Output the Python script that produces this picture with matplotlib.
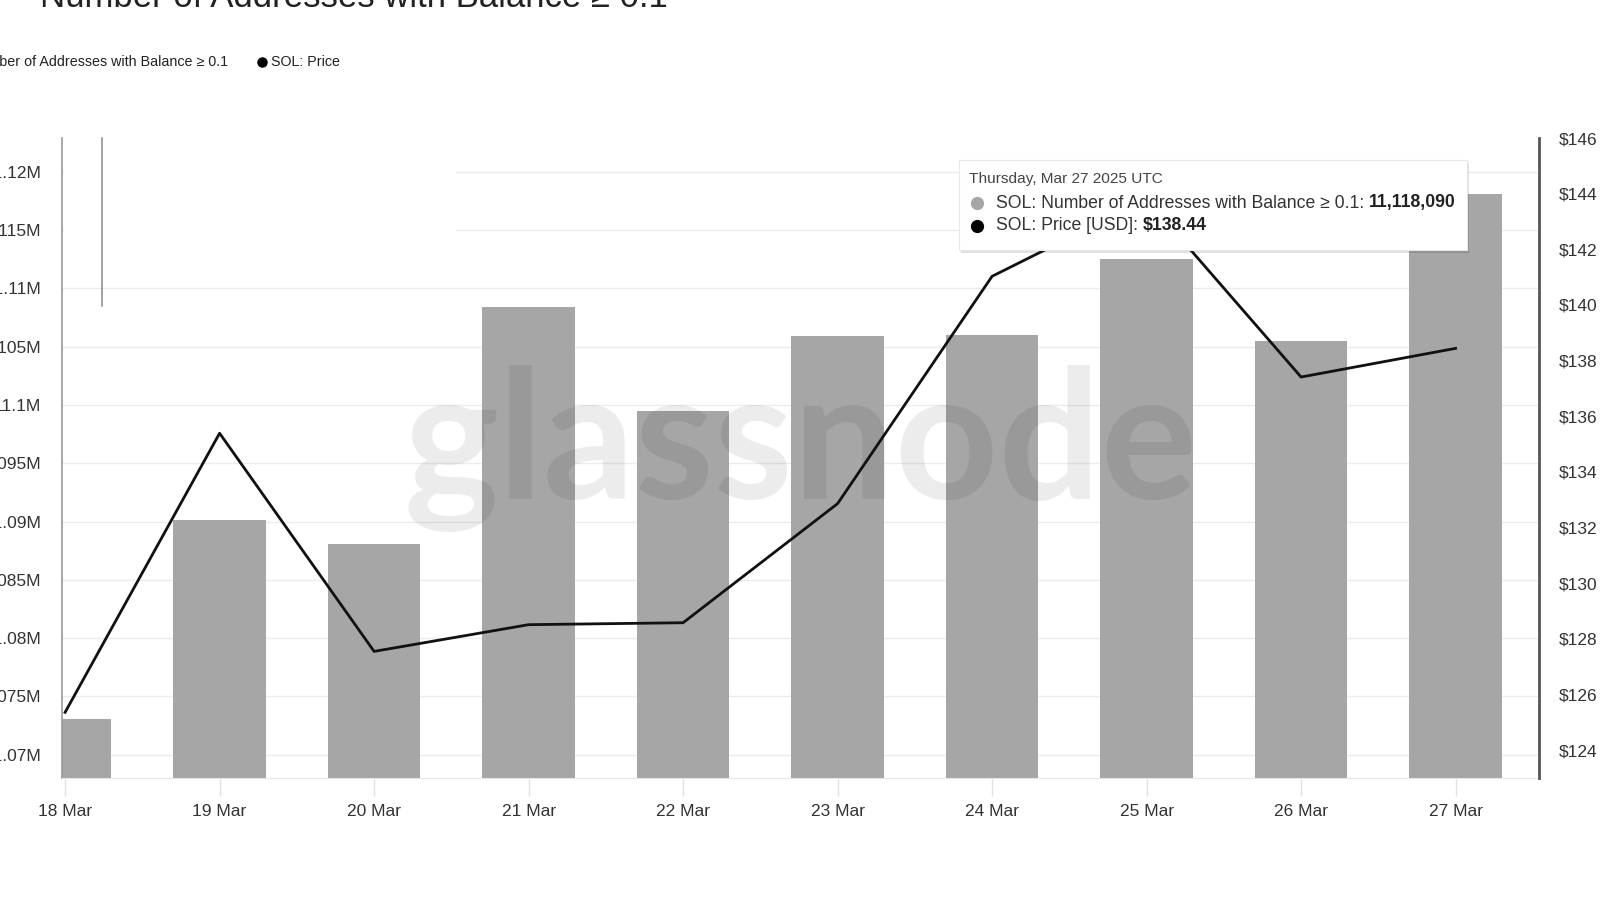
import matplotlib
matplotlib.use("Agg")
import matplotlib.pyplot as plt
from matplotlib.patches import Rectangle
from matplotlib.lines import Line2D

# data
dates = ["18 Mar", "19 Mar", "20 Mar", "21 Mar", "22 Mar",
         "23 Mar", "24 Mar", "25 Mar", "26 Mar", "27 Mar"]
addresses_m = [11.0731, 11.0901, 11.0881, 11.1084, 11.0995,
               11.1059, 11.1060, 11.1125, 11.1055, 11.11809]
price_usd = [125.36, 135.39, 127.55, 128.51, 128.58,
             132.86, 141.03, 143.8, 137.41, 138.44]

left_ticks = [11.07, 11.075, 11.08, 11.085, 11.09, 11.095,
              11.1, 11.105, 11.11, 11.115, 11.12]
left_labels = ["11.07M", "11.075M", "11.08M", "11.085M", "11.09M", "11.095M",
               "11.1M", "11.105M", "11.11M", "11.115M", "11.12M"]
right_ticks = list(range(124, 147, 2))
right_labels = ["$%d" % v for v in right_ticks]

W, H = 1600, 900
FONT = "Liberation Sans"
plt.rcParams["font.family"] = [FONT, "DejaVu Sans"]


def fx(x):
    return x / W


def fy(y):
    return 1 - y / H


fig = plt.figure(figsize=(16, 9), dpi=100)
fig.patch.set_facecolor("white")

# plot box in pixels: left 62, right 1539, top 138, bottom 778
ax1 = fig.add_axes([fx(62), fy(778), fx(1539) - fx(62), (778 - 138) / H])
ax2 = ax1.twinx()

x = list(range(len(dates)))
ax1.bar(x, addresses_m, width=0.6, color="#a6a6a6", lw=0, zorder=2)
ax1.set_xlim(-0.02, 9.54)
ax1.set_ylim(11.068, 11.1229)
ax1.set_yticks(left_ticks, left_labels)
ax1.set_xticks(x, dates)
ax1.set_axisbelow(True)
ax1.grid(axis="y", color="#ececec", lw=1)
ax1.tick_params(axis="y", length=0, pad=15, labelsize=12.5, labelcolor="#333333")
ax1.tick_params(axis="x", length=13, width=1, color="#e2e2e2", pad=5.5,
                labelsize=12.5, labelcolor="#333333")
for s in ["top", "right"]:
    ax1.spines[s].set_visible(False)
ax1.spines["left"].set_color("#999999")
ax1.spines["left"].set_linewidth(1.2)
ax1.spines["bottom"].set_color("#e6e6e6")

# hazy patch in the upper left corner of the screenshot
ax1.add_patch(Rectangle((fx(64), fy(282)), fx(455) - fx(64), (282 - 140) / H,
                        transform=fig.transFigure, color="white", zorder=1.5))
fig.add_artist(Line2D([fx(102), fx(102)], [fy(138), fy(306)],
                      color="#888888", lw=1.1, transform=fig.transFigure))

# watermark
ax1.text(0.5003, 0.515, "glassnode", transform=ax1.transAxes, ha="center",
         va="center", fontsize=130, family="Lato", fontweight="bold",
         color="black", alpha=0.075, zorder=3)

ax2.plot(x, price_usd, color="#111111", lw=2.0, zorder=4)
ax2.set_ylim(123.0, 145.95)
ax2.set_yticks(right_ticks, right_labels)
ax2.tick_params(axis="y", length=0, pad=14.4, labelsize=12.5, labelcolor="#333333")
for s in ["top", "left", "bottom"]:
    ax2.spines[s].set_visible(False)
ax2.spines["right"].set_color("#555555")
ax2.spines["right"].set_linewidth(2)

# cut-off title at the very top
fig.text(fx(668), fy(7), "Number of Addresses with Balance \u2265 0.1",
         ha="right", va="baseline", fontsize=25, color="#222222")

# legend (partly cut on the left)
fig.text(fx(228), fy(62), "SOL: Number of Addresses with Balance \u2265 0.1",
         ha="right", va="center", fontsize=10.3, color="#222222")
fig.add_artist(Line2D([fx(262)], [fy(62)], marker="o", ms=6.5, color="black",
                      transform=fig.transFigure))
fig.text(fx(271), fy(62), "SOL: Price", ha="left", va="center",
         fontsize=10.3, color="#222222")

# tooltip
bx0, by0, bx1, by1 = 959, 160, 1467, 250
fig.add_artist(Rectangle((fx(bx0 + 2), fy(by1 + 3)), fx(bx1 - bx0), (by1 - by0) / H,
                         transform=fig.transFigure, color="black", alpha=0.12,
                         lw=0, zorder=5))
fig.add_artist(Rectangle((fx(bx0), fy(by1)), fx(bx1 - bx0), (by1 - by0) / H,
                         transform=fig.transFigure, facecolor="white",
                         edgecolor="#e8e8e8", lw=0.8, zorder=6))
fig.text(fx(969), fy(179), "Thursday, Mar 27 2025 UTC", ha="left", va="center",
         fontsize=11.1, color="#444444", zorder=7)

renderer = fig.canvas.get_renderer()
rows = [("#a6a6a6", "SOL: Number of Addresses with Balance \u2265 0.1:", "11,118,090", 203),
        ("black", "SOL: Price [USD]:", "$138.44", 226)]
for col, label, value, ry in rows:
    fig.add_artist(Line2D([fx(977)], [fy(ry)], marker="o", ms=8.5, color=col,
                          transform=fig.transFigure, zorder=7))
    t = fig.text(fx(996), fy(ry), label, ha="left", va="center",
                 fontsize=12.7, color="#333333", zorder=7)
    end = t.get_window_extent(renderer).x1
    fig.text((end + 5) / W, fy(ry), value, ha="left", va="center",
             fontsize=12.7, fontweight="bold", color="#222222", zorder=7)

fig.savefig("out.png", dpi=100)
